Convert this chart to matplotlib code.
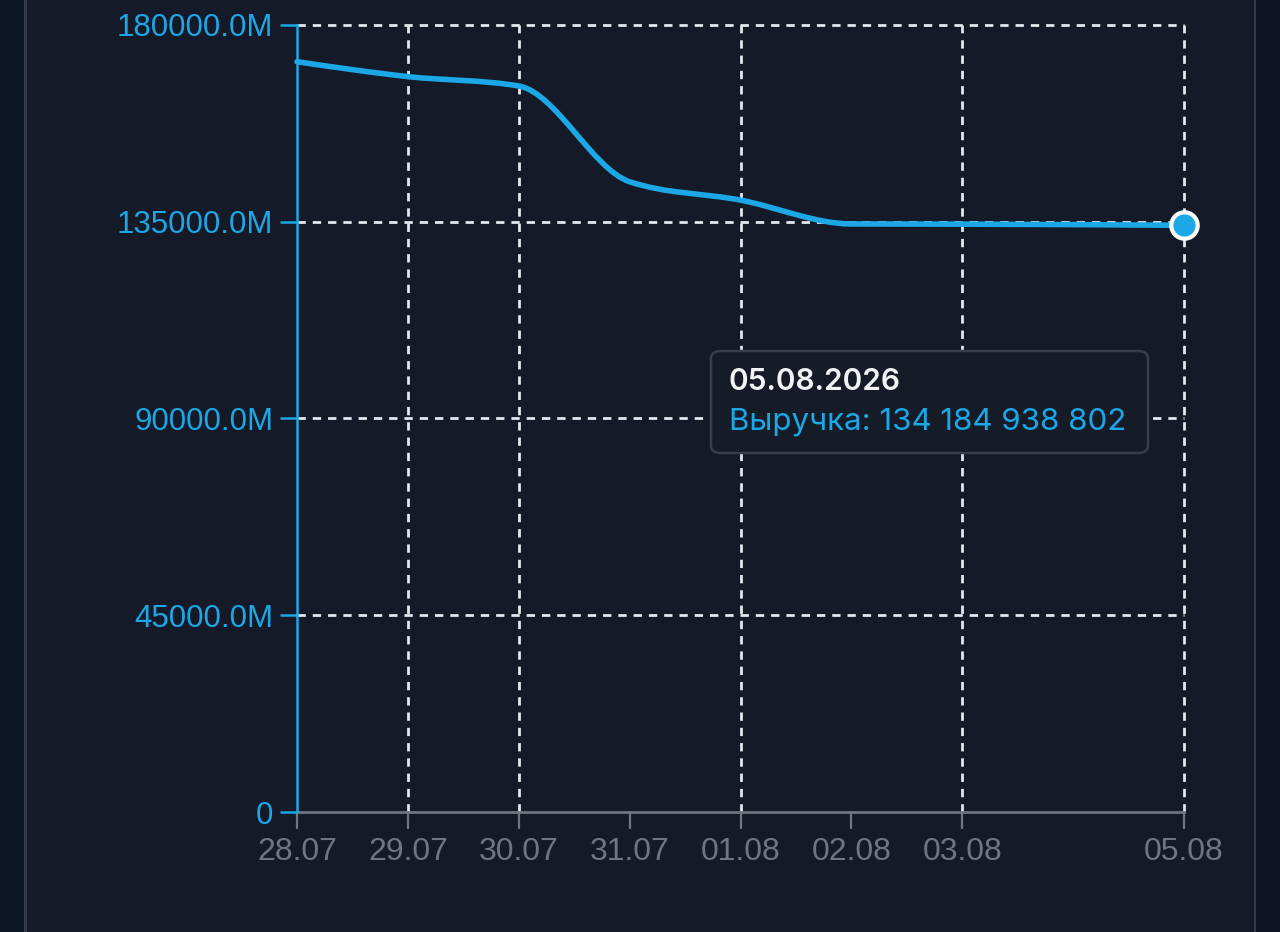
import numpy as np
import pandas as pd
import matplotlib
matplotlib.use("Agg")
import matplotlib.pyplot as plt
import matplotlib.dates as mdates
from matplotlib.path import Path
from matplotlib.patches import PathPatch, Rectangle, FancyBboxPatch
from matplotlib.ticker import FuncFormatter

# data (revenue in millions)
dates = ['2026-07-28', '2026-07-29', '2026-07-30', '2026-07-31',
         '2026-08-01', '2026-08-02', '2026-08-03', '2026-08-05']
revenue_m = [171600, 168200, 166050, 144150, 139950, 134500, 134450, 134184.938802]
y_ticks = [0, 45000, 90000, 135000, 180000]
grid_dates = ['2026-07-29', '2026-07-30', '2026-08-01', '2026-08-03', '2026-08-05']
tooltip_date = '05.08.2026'
tooltip_label = 'Выручка: 134 184 938 802'

BLUE = '#1ca7e6'
GRID = '#e4e7ec'
GRAY = '#70757f'
BG = '#141a27'

x = mdates.date2num(pd.to_datetime(dates))
y = np.array(revenue_m, dtype=float)
gx = mdates.date2num(pd.to_datetime(grid_dates))


def monotone_path(xs, ys):
    # d3 curveMonotoneX style bezier segments
    n = len(xs)
    h = np.diff(xs)
    s = np.diff(ys) / h
    t = np.zeros(n)
    for i in range(1, n - 1):
        p = (s[i - 1] * h[i] + s[i] * h[i - 1]) / (h[i - 1] + h[i])
        t[i] = (np.sign(s[i - 1]) + np.sign(s[i])) * min(abs(s[i - 1]), abs(s[i]), 0.5 * abs(p))
    t[0] = (3 * s[0] - t[1]) / 2
    t[-1] = (3 * s[-1] - t[-2]) / 2
    verts = [(xs[0], ys[0])]
    codes = [Path.MOVETO]
    for i in range(n - 1):
        dx = h[i] / 3
        verts += [(xs[i] + dx, ys[i] + dx * t[i]),
                  (xs[i + 1] - dx, ys[i + 1] - dx * t[i + 1]),
                  (xs[i + 1], ys[i + 1])]
        codes += [Path.CURVE4] * 3
    return Path(verts, codes)


fig = plt.figure(figsize=(12.8, 9.32), dpi=100, facecolor=BG)

# side strips of the app frame
fig.patches.append(Rectangle((0, 0), 24 / 1280, 1, transform=fig.transFigure,
                             facecolor='#0b1524', edgecolor='none'))
fig.patches.append(Rectangle((1256 / 1280, 0), 24 / 1280, 1, transform=fig.transFigure,
                             facecolor='#0d1322', edgecolor='none'))
fig.patches.append(Rectangle((24 / 1280, 0), 2.5 / 1280, 1, transform=fig.transFigure,
                             facecolor='#333b4b', edgecolor='none'))
fig.patches.append(Rectangle((1253.5 / 1280, 0), 2.5 / 1280, 1, transform=fig.transFigure,
                             facecolor='#333b4b', edgecolor='none'))

ax = fig.add_axes([297 / 1280, 120 / 932, 887 / 1280, 787 / 932])
ax.set_facecolor(BG)
ax.set_xlim(x[0], x[-1])
ax.set_ylim(0, 180000)

# grid (not clipped, so the edge lines show in full)
for v in y_ticks[1:]:
    ax.axhline(v, color=GRID, lw=2, ls=(0, (3, 2.5)), zorder=1, clip_on=False)
for v in gx:
    ax.axvline(v, color=GRID, lw=2, ls=(0, (3, 2.5)), zorder=1, clip_on=False)

# line
ax.add_patch(PathPatch(monotone_path(x, y), facecolor='none', edgecolor=BLUE,
                       lw=4, capstyle='round', joinstyle='round', zorder=3, clip_on=False))
ax.plot(x[-1], y[-1], 'o', ms=19, mfc=BLUE, mec='white', mew=3, zorder=4, clip_on=False)

# axes styling
for side in ['top', 'right']:
    ax.spines[side].set_visible(False)
ax.spines['left'].set_color(BLUE)
ax.spines['left'].set_linewidth(1.8)
ax.spines['bottom'].set_color(GRAY)
ax.spines['bottom'].set_linewidth(2)
ax.spines['left'].set_zorder(5)

ax.set_yticks(y_ticks)
ax.yaxis.set_major_formatter(FuncFormatter(lambda v, p: '0' if v == 0 else f'{v:.1f}M'))
ax.tick_params(axis='y', colors=BLUE, length=12, width=1.8, pad=5, labelsize=22.5)
ax.set_xticks(x)
ax.set_xticklabels(pd.to_datetime(dates).strftime('%d.%m'))
ax.tick_params(axis='x', colors=GRAY, length=12, width=1.6, pad=6, labelsize=23)
for lab in ax.get_xticklabels() + ax.get_yticklabels():
    lab.set_fontfamily('Liberation Sans')

# tooltip
box = FancyBboxPatch((711 / 1280, (932 - 453) / 932), 437 / 1280, 102 / 932,
                     boxstyle='round,pad=0,rounding_size=0.008', transform=fig.transFigure,
                     facecolor='#151b27', edgecolor='#363d4b', lw=1.8, zorder=10)
fig.patches.append(box)
fig.text(729 / 1280, (932 - 382) / 932, tooltip_date, color='#f2f3f5', fontsize=21.5,
         fontfamily='Inter', fontweight='semibold', va='center', ha='left', zorder=11)
fig.text(729 / 1280, (932 - 422) / 932, tooltip_label, color=BLUE, fontsize=22.5,
         fontfamily='Inter', va='center', ha='left', zorder=11)

fig.savefig('out.png', dpi=100, facecolor=BG)
